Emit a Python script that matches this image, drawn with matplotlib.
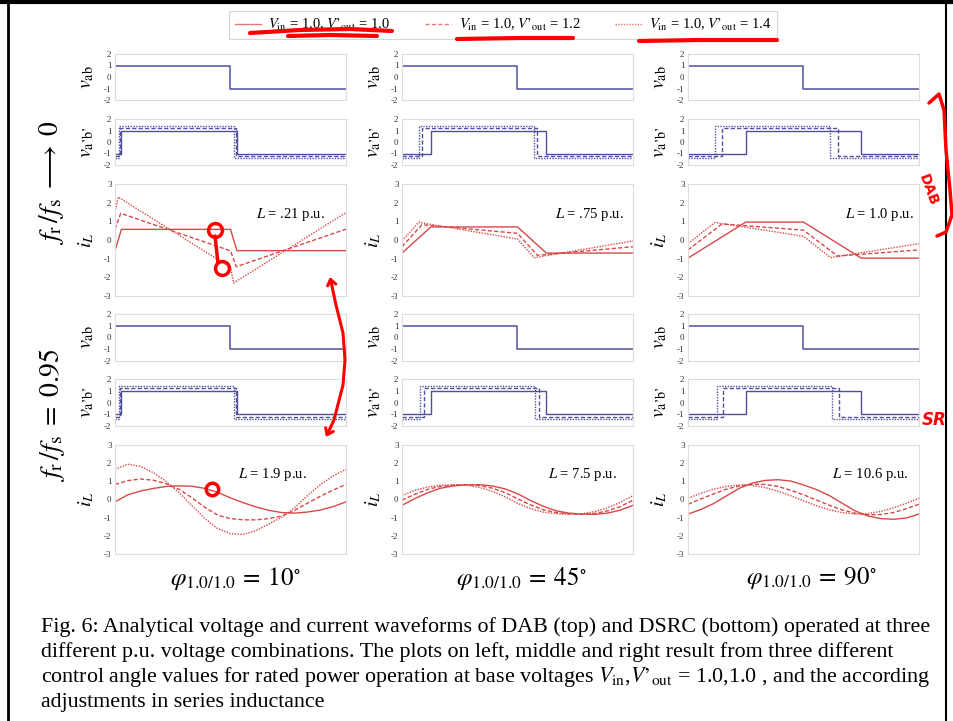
import matplotlib
matplotlib.use('Agg')
import matplotlib.pyplot as plt
from matplotlib.lines import Line2D
from matplotlib.patches import FancyArrowPatch
from matplotlib.path import Path

plt.rcParams['font.family'] = ['Liberation Serif', 'DejaVu Serif']
plt.rcParams['mathtext.fontset'] = 'stix'
plt.rcParams['axes.unicode_minus'] = False

# ---- 데이터 ----
phi_labels = ['10', '45', '90']
v_out = [1.0, 1.2, 1.4]
L_dab = ['.21', '.75', '1.0']
L_dsrc = ['1.9', '7.5', '10.6']

# v_ab : 반주기 구형파
vab_t = [0, 180, 360]
vab_v = [1, -1, -1]

# v_a'b' 상승 각도 [열][곡선] (deg)
dab_phase = [[10, 8, 6], [45, 31, 26], [90, 53, 42]]
dsrc_phase = [[10, 8, 6], [45, 34, 28], [90, 55, 45]]

# DAB 전류 꼭짓점 (각도, 값)
dab_t = [
    [[0, 10, 180, 190, 360], [0, 9, 180, 189, 360], [0, 5, 180, 185, 360]],
    [[0, 45, 180, 225, 360], [0, 31, 180, 211, 360], [0, 26, 180, 206, 360]],
    [[0, 90, 180, 270, 360], [0, 53, 180, 233, 360], [0, 42, 180, 222, 360]],
]
dab_iL = [
    [[-0.57, 0.57, 0.57, -0.57, -0.57], [0.58, 1.43, -0.58, -1.43, 0.58], [1.47, 2.3, -1.47, -2.3, 1.47]],
    [[-0.7, 0.7, 0.7, -0.7, -0.7], [-0.36, 0.82, 0.36, -0.82, -0.36], [-0.05, 0.95, 0.05, -0.95, -0.05]],
    [[-0.97, 0.96, 0.96, -0.97, -0.97], [-0.53, 0.86, 0.53, -0.86, -0.53], [-0.2, 0.94, 0.2, -0.94, -0.2]],
]

# DSRC 전류 (20도 간격으로 읽은 값)
th_grid = [0, 20, 40, 60, 80, 100, 120, 140, 160, 180, 200, 220, 240, 260, 280, 300, 320, 340, 360]
dsrc_iL = [
    [[-0.13, 0.26, 0.47, 0.61, 0.72, 0.75, 0.73, 0.61, 0.39, 0.09, -0.18, -0.41, -0.6, -0.72, -0.75, -0.69, -0.58, -0.39, -0.13],
     [0.83, 1.04, 1.13, 1.06, 0.87, 0.56, 0.09, -0.43, -0.86, -1.05, -1.12, -1.12, -1.05, -0.91, -0.6, -0.2, 0.18, 0.52, 0.83],
     [1.66, 1.94, 1.82, 1.47, 0.99, 0.37, -0.34, -1.05, -1.6, -1.88, -1.92, -1.7, -1.35, -0.97, -0.45, 0.22, 0.82, 1.3, 1.66]],
    [[-0.32, 0.05, 0.37, 0.62, 0.75, 0.8, 0.82, 0.75, 0.59, 0.32, -0.05, -0.37, -0.62, -0.75, -0.8, -0.82, -0.75, -0.59, -0.32],
     [-0.04, 0.29, 0.56, 0.72, 0.79, 0.82, 0.77, 0.63, 0.39, 0.04, -0.29, -0.56, -0.72, -0.79, -0.82, -0.77, -0.63, -0.39, -0.04],
     [0.21, 0.5, 0.69, 0.78, 0.81, 0.79, 0.67, 0.46, 0.16, -0.21, -0.5, -0.69, -0.78, -0.81, -0.79, -0.67, -0.46, -0.16, 0.21]],
    [[-0.8, -0.55, -0.22, 0.2, 0.62, 0.9, 1.05, 1.09, 1.02, 0.8, 0.55, 0.22, -0.2, -0.62, -0.9, -1.05, -1.09, -1.02, -0.8],
     [-0.26, 0.03, 0.31, 0.57, 0.75, 0.84, 0.83, 0.72, 0.51, 0.26, -0.03, -0.31, -0.57, -0.75, -0.84, -0.83, -0.72, -0.51, -0.26],
     [0.07, 0.34, 0.57, 0.72, 0.8, 0.77, 0.66, 0.46, 0.21, -0.07, -0.34, -0.57, -0.72, -0.8, -0.77, -0.66, -0.46, -0.21, 0.07]],
]

# ---- 스타일 ----
BLUE = '#4f4f9e'
RED = '#d84848'
styles = ['-', (0, (3, 1.6)), (0, (1, 1))]
W, H = 954, 721

fig = plt.figure(figsize=(W / 100, H / 100), dpi=100)


def box(l, t, r, b):
    return [l / W, 1 - b / H, (r - l) / W, (b - t) / H]


col_l = [115, 402, 688]
col_w = 231
rows = [(54, 100), (119, 165), (184, 296), (314, 361), (379, 426), (445, 554)]
ylabels = [r'$v_{\mathrm{ab}}$', r'$v_{\mathrm{a’b’}}$', r'$i_{L}$']


def style_ax(ax, lim, lab):
    ax.set_xlim(0, 360)
    ax.set_ylim(-lim, lim)
    ticks = list(range(lim, -lim - 1, -1))
    ax.set_yticks(ticks)
    ax.set_yticklabels([str(t) for t in ticks])
    ax.set_xticks([])
    ax.tick_params(length=0, pad=2.5, labelsize=6.5, labelcolor='#333333')
    for s in ax.spines.values():
        s.set_color('#dcdcdc')
        s.set_linewidth(0.8)
    ax.set_ylabel(lab, fontsize=14.5, rotation=90)
    ax.yaxis.set_label_coords(-0.08, 0.5)


for c in range(3):
    for g in range(2):
        phases = dab_phase if g == 0 else dsrc_phase
        r0 = 3 * g
        # v_ab
        ax = fig.add_axes(box(col_l[c], rows[r0][0], col_l[c] + col_w, rows[r0][1]))
        ax.plot(vab_t, vab_v, drawstyle='steps-post', color=BLUE, lw=1.1)
        style_ax(ax, 2, ylabels[0])
        # v_a'b'
        ax = fig.add_axes(box(col_l[c], rows[r0 + 1][0], col_l[c] + col_w, rows[r0 + 1][1]))
        for k in range(3):
            ph = phases[c][k]
            V = v_out[k]
            ax.plot([0, ph, ph + 180, 360], [-V, V, -V, -V], drawstyle='steps-post',
                    color=BLUE, lw=1.0, ls=styles[k])
        style_ax(ax, 2, ylabels[1])
        # i_L
        ax = fig.add_axes(box(col_l[c], rows[r0 + 2][0], col_l[c] + col_w, rows[r0 + 2][1]))
        for k in range(3):
            if g == 0:
                ax.plot(dab_t[c][k], dab_iL[c][k], color=RED, lw=1.0, ls=styles[k])
            else:
                ax.plot(th_grid, dsrc_iL[c][k], color=RED, lw=1.0, ls=styles[k])
        style_ax(ax, 3, ylabels[2])
        Ls = L_dab if g == 0 else L_dsrc
        lx = [[0.76, 0.81, 0.83], [0.68, 0.78, 0.79]][g][c]
        ax.text(lx, 0.73, r'$L$ = ' + Ls[c] + ' p.u.', transform=ax.transAxes,
                fontsize=10.5, ha='center', va='center')

# 아래 각도 라벨
phi_x = [235, 521, 811]
for c in range(3):
    fig.text(phi_x[c] / W, 1 - 578 / H,
             r'$\varphi_{1.0/1.0}\:=\:' + phi_labels[c] + r'^{\circ}$',
             fontsize=18, ha='center', va='center')

# 행 라벨
fig.text(52 / W, 1 - 183 / H, r'$f_{\mathrm{r}}\,/f_{\mathrm{s}}\; \longrightarrow\; 0$',
         rotation=90, fontsize=20, ha='center', va='center')
fig.text(52 / W, 1 - 415 / H, r'$f_{\mathrm{r}}\,/f_{\mathrm{s}}\; =\; 0.95$',
         rotation=90, fontsize=20, ha='center', va='center')

# 범례
handles = [Line2D([], [], color='#e07a7a', lw=1.0, ls=s) for s in styles]
labels = [r'$V_{\mathrm{in}}$ = 1.0, $V’_{\mathrm{out}}$ = ' + f'{v:.1f}' for v in v_out]
leg = fig.legend(handles, labels, loc='center', bbox_to_anchor=(503 / W, 1 - 25 / H), ncol=3,
                 frameon=True, fancybox=False, edgecolor='#cccccc', fontsize=10.5,
                 handlelength=1.8, handletextpad=0.5, columnspacing=2.4, borderpad=0.4)
leg.get_frame().set_linewidth(0.8)

# 캡션
caption = [
    'Fig. 6: Analytical voltage and current waveforms of DAB (top) and DSRC (bottom) operated at three',
    'different p.u. voltage combinations. The plots on left, middle and right result from three different',
    r'control angle values for rated power operation at base voltages $V_{\mathrm{in}}$,$V’_{\mathrm{out}}$ = 1.0,1.0 , and the according',
    'adjustments in series inductance',
]
for i, line in enumerate(caption):
    fig.text(41 / W, 1 - (627 + 25 * i) / H, line, fontsize=15.8, ha='left', va='center')

# 페이지 테두리
fig.add_artist(Line2D([0, 1], [1 - 2 / H, 1 - 2 / H], color='black', lw=3))
fig.add_artist(Line2D([8 / W, 8 / W], [0, 1], color='black', lw=2))
fig.add_artist(Line2D([946 / W, 946 / W], [0, 1], color='black', lw=1.5))


# 빨간 손글씨 표시
def stroke(pts, lw=2.5):
    xs = [p[0] / W for p in pts]
    ys = [1 - p[1] / H for p in pts]
    fig.add_artist(Line2D(xs, ys, color='red', lw=lw, solid_capstyle='round', zorder=10))


stroke([(250, 33), (300, 30), (350, 29), (392, 31)], 3)
stroke([(288, 36), (330, 35), (377, 36)], 3)
stroke([(457, 39), (520, 38), (573, 38)], 3)
stroke([(639, 41), (700, 40), (777, 40)], 3)
stroke([(929, 103), (939, 94), (944, 110), (946, 150), (950, 190), (952, 215), (946, 232), (937, 236)], 2.5)
fig.text(928 / W, 1 - 190 / H, 'DAB', color='red', fontsize=10, fontweight='bold',
         rotation=-70, ha='center', va='center', family='DejaVu Sans', zorder=10)
fig.text(934 / W, 1 - 420 / H, 'SR', color='red', fontsize=12, fontweight='bold',
         style='italic', ha='center', va='center', family='DejaVu Sans', zorder=10)
arc = Path([(330 / W, 1 - 277 / H), (336 / W, 1 - 305 / H), (343 / W, 1 - 333 / H), (345 / W, 1 - 360 / H),
            (343 / W, 1 - 385 / H), (334 / W, 1 - 420 / H), (326 / W, 1 - 437 / H)])
fig.add_artist(FancyArrowPatch(path=arc, arrowstyle='<->,head_length=4,head_width=3',
                               color='red', lw=2.2, transform=fig.transFigure, zorder=10))
stroke([(215, 236), (218, 263)], 2.5)
fig.add_artist(Line2D([215 / W, 222 / W], [1 - 230 / H, 1 - 268 / H], ls='none', marker='o',
                      ms=10, mfc='none', mec='red', mew=2.5, zorder=10))
fig.add_artist(Line2D([212 / W], [1 - 489 / H], ls='none', marker='o',
                      ms=9, mfc='none', mec='red', mew=2.5, zorder=10))

fig.savefig('out.png', dpi=100, facecolor='white')
